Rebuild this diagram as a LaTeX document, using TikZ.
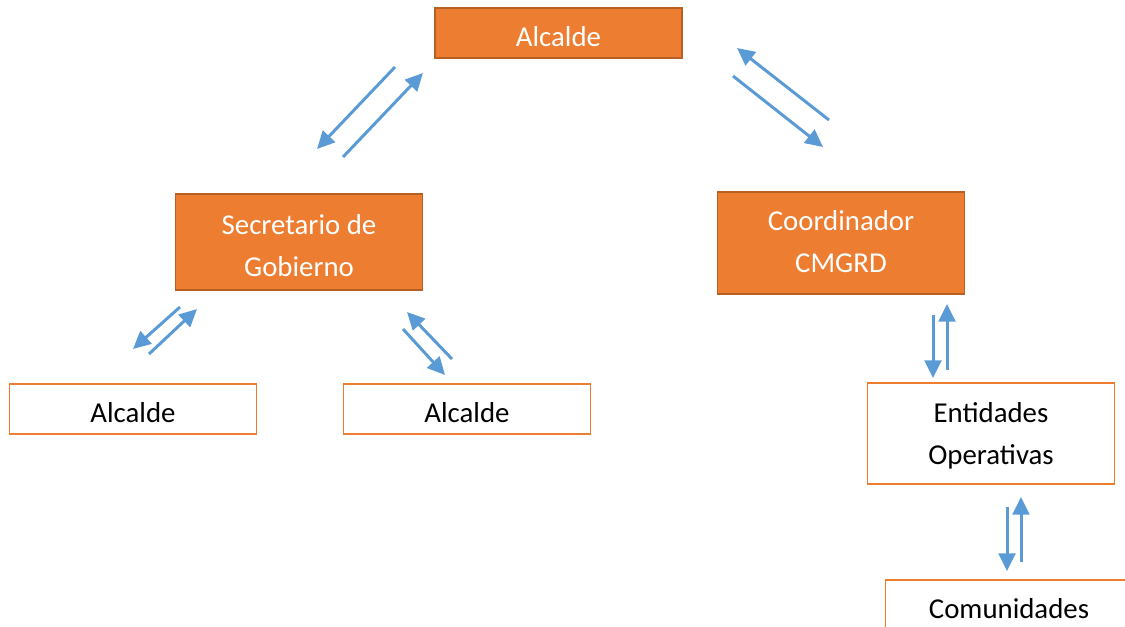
\documentclass[tikz,border=0pt]{standalone}
\usepackage{fontspec}
\setmainfont{Carlito}
\usetikzlibrary{arrows.meta}
\definecolor{boxorange}{HTML}{ED7D31}
\definecolor{boxedge}{HTML}{B85F24}
\definecolor{arrowblue}{HTML}{5B9BD5}
\newcommand{\lnstrut}{\rule[-3.7pt]{0pt}{23.2pt}}
\newcommand{\lnpad}[1]{\rule[-#1]{0pt}{1pt}}
\tikzset{
  filledbox/.style={rectangle,draw=boxedge,fill=boxorange,line width=1.1pt,text=white,
    minimum width=140.6pt,inner sep=0pt,align=center,font=\fontsize{16.4}{23.8}\selectfont},
  plainbox/.style={rectangle,draw=boxorange,fill=white,line width=1.1pt,text=black,
    minimum width=140.6pt,inner sep=0pt,align=center,font=\fontsize{16.4}{23.8}\selectfont},
  flow/.style={draw=arrowblue,line width=1.7pt,-{Triangle[length=10pt,width=9.5pt]}}
}
\begin{document}
\begin{tikzpicture}[x=0.02cm,y=-0.02cm]
\useasboundingbox (0,0) rectangle (1125,626);
\clip (0,0) rectangle (1125,626);

\begin{scope}[every node/.style={filledbox}]
    \node[minimum height=28.35pt] (alc) at (558.5,33) {\lnstrut Alcalde};
    \node[minimum height=54.4pt] (sec) at (299,242) {\lnstrut Secretario de\\\lnstrut Gobierno};
    \node[minimum height=57.8pt] (coord) at (841,243) {\lnstrut Coordinador\\\lnstrut CMGRD\lnpad{9.4pt}};
\end{scope}

\begin{scope}[every node/.style={plainbox}]
    \node[minimum height=28.35pt] (alcA) at (133,409) {\lnstrut Alcalde};
    \node[minimum height=28.35pt] (alcB) at (467,409) {\lnstrut Alcalde};
    \node[minimum height=57.3pt] (ent) at (991,433.5) {\lnstrut Entidades\\\lnstrut Operativas\lnpad{8.2pt}};
    \node[minimum height=28.35pt] (com) at (1009,605) {\lnstrut Comunidades};
\end{scope}

% arrow ends
\coordinate (p1) at (395,67);   \coordinate (q1) at (317,149);
\coordinate (p2) at (343,157);  \coordinate (q2) at (423,73);
\coordinate (p3) at (829,120);  \coordinate (q3) at (737,48);
\coordinate (p4) at (733,76);   \coordinate (q4) at (823,147);
\coordinate (p5) at (180,307);  \coordinate (q5) at (133,349);
\coordinate (p6) at (149,354);  \coordinate (q6) at (197,309);
\coordinate (p7) at (452,359);  \coordinate (q7) at (407,312);
\coordinate (p8) at (403,329);  \coordinate (q8) at (445,375);
\coordinate (p9) at (933,315);  \coordinate (q9) at (933,378);
\coordinate (p10) at (947,370); \coordinate (q10) at (947,304);
\coordinate (p11) at (1007,507); \coordinate (q11) at (1007,571);
\coordinate (p12) at (1021,562); \coordinate (q12) at (1021,497);

\begin{scope}[style={flow}]
    \path (p1) edge (q1);
    \path (p2) edge (q2);

    \path (p3) edge (q3);
    \path (p4) edge (q4);

    \path (p5) edge (q5);
    \path (p6) edge (q6);

    \path (p7) edge (q7);
    \path (p8) edge (q8);

    \path (p9) edge (q9);
    \path (p10) edge (q10);

    \path (p11) edge (q11);
    \path (p12) edge (q12);
\end{scope}

\end{tikzpicture}
\end{document}
